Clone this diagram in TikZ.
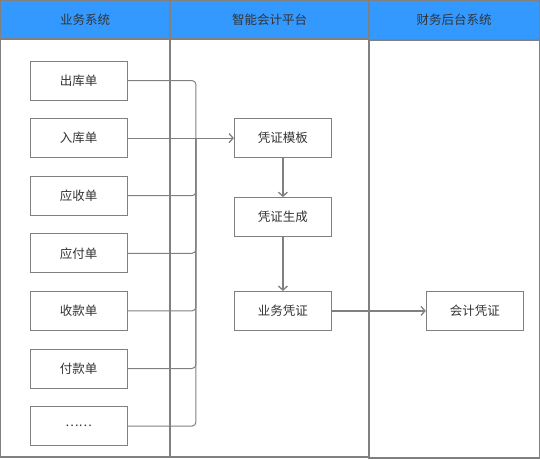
\documentclass[tikz,border=0pt]{standalone}
\usepackage{fontspec}
\setmainfont{Noto Sans CJK SC}
\usepackage{xcolor}
\usepackage{tikz}
\usetikzlibrary{arrows.meta, positioning, calc}

\definecolor{lanegray}{HTML}{808080}
\definecolor{headblue}{HTML}{3399FF}
\definecolor{txtgray}{HTML}{333333}

\begin{document}
\begin{tikzpicture}[
    x=1pt, y=-1pt,
    node distance=17.7pt and 106.5pt,
    lane/.style={draw=lanegray, line width=1.2pt},
    head/.style={draw=lanegray, line width=1.2pt, fill=headblue},
    htext/.style={font=\fontsize{12.5}{14}\selectfont, text=txtgray},
    doc/.style={rectangle, draw=lanegray, line width=0.9pt, fill=white, minimum width=97pt, minimum height=39pt, inner sep=0pt, text=txtgray, font=\fontsize{12.5}{14}\selectfont},
    link/.style={draw=lanegray, line width=1pt, rounded corners=4pt},
    arrow/.style={draw=lanegray, line width=1pt, -{Straight Barb[length=4pt, width=9pt, line width=1.3pt]}},
    barrow/.style={draw=lanegray, line width=2pt, -{Straight Barb[length=4pt, width=9pt, line width=1.3pt]}}
]
\useasboundingbox (0,0) rectangle (540,459);

% Swim lanes with blue headers
\draw[lane] (0.6,0.6) rectangle (170,457);
\draw[lane] (170,0.6) rectangle (369,457);
\draw[lane] (369,0.6) rectangle (539.4,458);
\draw[head] (0.6,0.6) rectangle (170,39);
\draw[head] (170,0.6) rectangle (369,39);
\draw[head] (369,0.6) rectangle (539.4,40);
\node[htext] (hbiz) at (85,19.5) {业务系统};
\node[htext] (hplat) at (269.5,19.5) {智能会计平台};
\node[htext] (hfin) at (454,20) {财务后台系统};

% Column 1: business documents (top to bottom)
\node[doc] (outbill) at (78.5,80.5) {出库单};
\node[doc, below=of outbill] (inbill) {入库单};
\node[doc, below=of inbill] (recv) {应收单};
\node[doc, below=of recv] (pay) {应付单};
\node[doc, below=of pay] (collect) {收款单};
\node[doc, below=of collect] (payout) {付款单};
\node[doc, below=of payout] (more) {……};

% Column 2: voucher platform
\node[doc, right=of inbill] (tpl) {凭证模板};
\node[doc, below=39pt of tpl] (gen) {凭证生成};
\node[doc, right=of collect] (bizv) {业务凭证};

% Column 3: finance back office
\node[doc, right=94pt of bizv] (accv) {会计凭证};

% Collector bus feeding the template
\coordinate (bus) at ($(inbill.east)+(68.5,0)$);
\foreach \src in {outbill, recv, pay, collect, payout, more}
    \draw[link] (\src.east) -| (bus);
\draw[arrow] (inbill.east) -- (tpl.west);

% Voucher flow
\draw[barrow] (tpl) -- (gen);
\draw[barrow] (gen) -- (bizv);
\draw[barrow] (bizv) -- (accv);

\end{tikzpicture}
\end{document}
